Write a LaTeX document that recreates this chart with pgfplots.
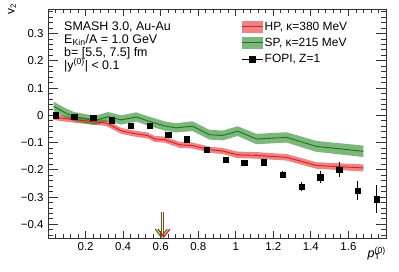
\documentclass[border=0pt]{standalone}
\usepackage{pgfplots}
\pgfplotsset{compat=1.18}
\usepackage{pgfplotstable}
\usepgfplotslibrary{fillbetween}
\usetikzlibrary{calc,arrows.meta}
\usepackage{fontspec}
\setmainfont{Liberation Sans}

\definecolor{hpfill}{RGB}{222,50,50}
\definecolor{hpline}{RGB}{225,25,25}
\definecolor{spfill}{RGB}{40,135,40}
\definecolor{spline}{RGB}{25,115,25}
\definecolor{arrgreen}{RGB}{20,140,20}
\definecolor{arrred}{RGB}{235,20,20}

\pgfplotstableread{
x y e
0.03 -0.006 0.011
0.09 -0.012 0.011
0.14 -0.016 0.011
0.25 -0.024 0.011
0.31 -0.028 0.011
0.39 -0.057 0.011
0.46 -0.067 0.011
0.53 -0.074 0.011
0.57 -0.087 0.011
0.62 -0.089 0.011
0.70 -0.108 0.011
0.77 -0.111 0.011
0.86 -0.126 0.011
0.93 -0.131 0.011
1.01 -0.145 0.012
1.11 -0.147 0.012
1.27 -0.154 0.012
1.43 -0.184 0.012
1.68 -0.193 0.013
}\hp

\pgfplotstableread{
x y e
0.03 0.033 0.017
0.09 0.010 0.017
0.14 -0.005 0.017
0.25 -0.019 0.017
0.32 -0.005 0.017
0.39 -0.017 0.017
0.47 -0.006 0.017
0.53 -0.020 0.017
0.62 -0.039 0.017
0.68 -0.046 0.017
0.77 -0.040 0.018
0.86 -0.071 0.018
0.93 -0.074 0.018
1.01 -0.058 0.018
1.11 -0.087 0.019
1.27 -0.081 0.019
1.43 -0.114 0.020
1.68 -0.132 0.021
}\sp

\pgfplotstableread{
x y e
0.04 0.000 0.004
0.14 -0.006 0.004
0.24 -0.009 0.004
0.34 -0.018 0.004
0.44 -0.039 0.004
0.54 -0.037 0.004
0.64 -0.071 0.004
0.74 -0.087 0.004
0.845 -0.126 0.005
0.945 -0.163 0.005
1.045 -0.173 0.006
1.15 -0.172 0.008
1.25 -0.218 0.012
1.35 -0.261 0.018
1.45 -0.227 0.021
1.55 -0.200 0.028
1.65 -0.276 0.036
1.75 -0.308 0.052
}\fopi

\begin{document}
\begin{tikzpicture}
\begin{axis}[
  name=ax,
  scale only axis,
  width=338bp, height=229bp,
  xmin=0, xmax=1.8, ymin=-0.45, ymax=0.39,
  axis line style={line width=0.9bp, black!80},
  xtick={0.2,0.4,0.6,0.8,1,1.2,1.4,1.6},
  xticklabels={0.2,0.4,0.6,0.8,1,1.2,1.4,1.6},
  minor xtick={0.04,0.08,0.12,0.16,0.24,0.28,0.32,0.36,0.44,0.48,0.52,0.56,0.64,0.68,0.72,0.76,0.84,0.88,0.92,0.96,1.04,1.08,1.12,1.16,1.24,1.28,1.32,1.36,1.44,1.48,1.52,1.56,1.64,1.68,1.72,1.76},
  ytick={-0.4,-0.3,-0.2,-0.1,0,0.1,0.2,0.3},
  yticklabels={−0.4,−0.3,−0.2,−0.1,0,0.1,0.2,0.3},
  minor ytick={-0.44,-0.42,-0.38,-0.36,-0.34,-0.32,-0.28,-0.26,-0.24,-0.22,-0.18,-0.16,-0.14,-0.12,-0.08,-0.06,-0.04,-0.02,0.02,0.04,0.06,0.08,0.12,0.14,0.16,0.18,0.22,0.24,0.26,0.28,0.32,0.34,0.36,0.38},
  tick align=inside,
  xtick pos=both, ytick pos=both,
  xticklabel pos=bottom, yticklabel pos=left,
  tick style={line width=0.9bp, black!80},
  xtick style={/pgfplots/major tick length=7bp, /pgfplots/minor tick length=3.5bp},
  ytick style={/pgfplots/major tick length=10bp, /pgfplots/minor tick length=5bp},
  ticklabel style={font=\fontsize{11.5}{12}\selectfont},
  xticklabel style={yshift=-1bp},
  yticklabel style={xshift=-1bp},
  ylabel={v\textsubscript{2}},
  ylabel style={at={(rel axis cs:0,1)}, anchor=east, xshift=6bp, yshift=36bp, font=\fontsize{12}{13}\selectfont, inner sep=0pt},
  xlabel={\textit{p}\rlap{\textsubscript{T}}\textsuperscript{(0)}},
  xlabel style={at={(rel axis cs:1,0)}, anchor=north east, yshift=-9bp, font=\fontsize{12.5}{13}\selectfont, inner sep=0pt},
  legend style={at={(rel axis cs:0,1)}, anchor=north west, xshift=193bp, yshift=-11bp, draw=none, fill=none,
     font=\fontsize{12}{13}\selectfont, row sep=3.5bp, inner sep=0pt, nodes={inner sep=1.5bp}},
  legend cell align=left,
]
% HP band
\addplot[draw=none, forget plot, name path=hpU] table[x=x, y expr=\thisrow{y}+\thisrow{e}] {\hp};
\addplot[draw=none, forget plot, name path=hpL] table[x=x, y expr=\thisrow{y}-\thisrow{e}] {\hp};
\addplot[fill=hpfill, fill opacity=0.6, draw=none,
  legend image code/.code={\fill[hpfill, fill opacity=0.6] (0bp,-6bp) rectangle (21bp,6bp); \draw[hpline, line width=1bp] (0bp,0bp) -- (21bp,0bp);}]
  fill between[of=hpU and hpL];
\addlegendentry{HP, κ=380 MeV}
% SP band
\addplot[draw=none, forget plot, name path=spU] table[x=x, y expr=\thisrow{y}+\thisrow{e}] {\sp};
\addplot[draw=none, forget plot, name path=spL] table[x=x, y expr=\thisrow{y}-\thisrow{e}] {\sp};
\addplot[fill=spfill, fill opacity=0.6, draw=none,
  legend image code/.code={\fill[spfill, fill opacity=0.6] (0bp,-6bp) rectangle (21bp,6bp); \draw[spline, line width=1bp] (0bp,0bp) -- (21bp,0bp);}]
  fill between[of=spU and spL];
\addlegendentry{SP, κ=215 MeV}
% central lines
\addplot[hpline, line width=0.9bp, forget plot] table[x=x,y=y] {\hp};
\addplot[spline, line width=0.9bp, forget plot] table[x=x,y=y] {\sp};
% FOPI
\addplot[black, only marks, mark=square*, mark size=2.7bp,
  legend image code/.code={\draw[black, line width=1bp] (0bp,0bp) -- (21bp,0bp); \fill[black] (7.8bp,-2.7bp) rectangle (13.2bp,2.7bp);},
  error bars/.cd, y dir=both, y explicit, error bar style={line width=1bp, black}, error mark=none]
  table[x=x, y=y, y error=e] {\fopi};
\addlegendentry{FOPI, Z=1}
% arrows
\draw[arrgreen, line width=1.2bp, -{Straight Barb[length=8bp,width=12bp]}] (axis cs:0.603,-0.355) -- (axis cs:0.603,-0.45);
\draw[arrred, line width=1.2bp, -{Straight Barb[length=8bp,width=12bp]}] (axis cs:0.617,-0.355) -- (axis cs:0.617,-0.45);
% text block
\node[anchor=base west, inner sep=0pt, font=\fontsize{12.5}{13}\selectfont] at (rel axis cs:0,1) [xshift=16bp, yshift=-21bp] {SMASH 3.0, Au-Au};
\node[anchor=base west, inner sep=0pt, font=\fontsize{12.5}{13}\selectfont] at (rel axis cs:0,1) [xshift=16bp, yshift=-34bp] {E\textsubscript{Kin}/A = 1.0 GeV};
\node[anchor=base west, inner sep=0pt, font=\fontsize{12.5}{13}\selectfont] at (rel axis cs:0,1) [xshift=16bp, yshift=-47bp] {b= [5.5, 7.5] fm};
\node[anchor=base west, inner sep=0pt, font=\fontsize{12.5}{13}\selectfont] at (rel axis cs:0,1) [xshift=16bp, yshift=-60bp] {|y\textsuperscript{(0)}| < 0.1};
\end{axis}
\pgfresetboundingbox
\path ($(ax.south west)+(-48bp,-34bp)$) rectangle ($(ax.north east)+(13bp,9bp)$);
\end{tikzpicture}
\end{document}
